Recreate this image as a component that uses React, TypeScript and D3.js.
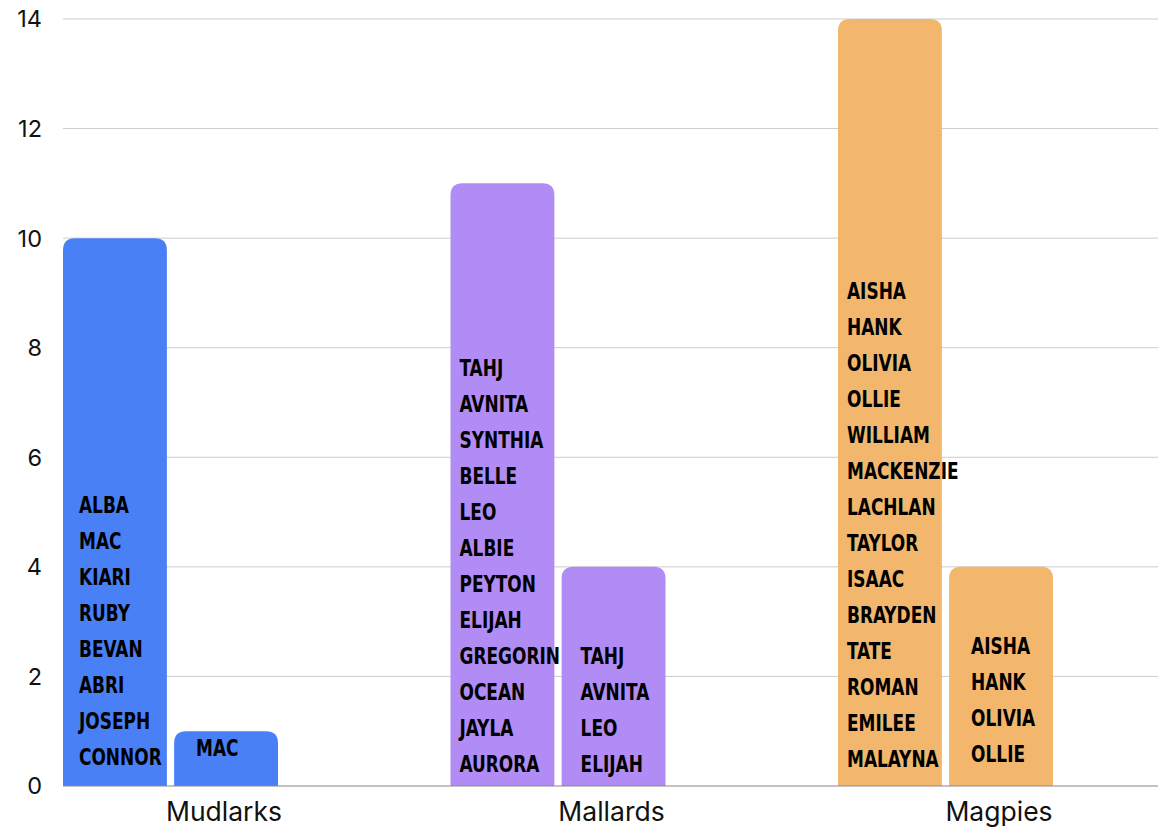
import React from 'react';
import * as d3 from 'd3';

const groups = ['Mudlarks', 'Mallards', 'Magpies'];
const firstValues = [10, 11, 14];
const secondValues = [1, 4, 4];
const yTicks = [0, 2, 4, 6, 8, 10, 12, 14];

const mudlarksFirst = ['ALBA', 'MAC', 'KIARI', 'RUBY', 'BEVAN', 'ABRI', 'JOSEPH', 'CONNOR'];
const mudlarksSecond = ['MAC'];
const mallardsFirst = ['TAHJ', 'AVNITA', 'SYNTHIA', 'BELLE', 'LEO', 'ALBIE', 'PEYTON', 'ELIJAH', 'GREGORIN', 'OCEAN', 'JAYLA', 'AURORA'];
const mallardsSecond = ['TAHJ', 'AVNITA', 'LEO', 'ELIJAH'];
const magpiesFirst = ['AISHA', 'HANK', 'OLIVIA', 'OLLIE', 'WILLIAM', 'MACKENZIE', 'LACHLAN', 'TAYLOR', 'ISAAC', 'BRAYDEN', 'TATE', 'ROMAN', 'EMILEE', 'MALAYNA'];
const magpiesSecond = ['AISHA', 'HANK', 'OLIVIA', 'OLLIE'];

const groupColors = ['#4a80f5', '#b08cf4', '#f2b76c'];

// layout tweaks for the name stacks (one per bar, in draw order)
const nameDx = [16, 22, 9, 19, 9, 22];
const nameBottom = [29, 38, 22, 22, 27, 32];

const width = 1158;
const height = 830;
const left = 63;
const right = 1158;
const top = 19;
const bottom = 786;

const App = () => {
  const y = d3.scaleLinear().domain([0, 14]).range([bottom, top]);
  const x0 = d3.scaleBand().domain(groups).range([left, left + 387.5 * 3]);
  const x1 = d3.scaleBand().domain(['first', 'second']).range([0, 215]).paddingInner(0.065);

  const names = [
    [mudlarksFirst, mudlarksSecond],
    [mallardsFirst, mallardsSecond],
    [magpiesFirst, magpiesSecond],
  ];

  const bars = groups.flatMap((g, i) => [
    { group: g, key: 'first', value: firstValues[i], names: names[i][0], color: groupColors[i] },
    { group: g, key: 'second', value: secondValues[i], names: names[i][1], color: groupColors[i] },
  ]);
  const bw = x1.bandwidth();
  const barX = (b: { group: string; key: string }) => (x0(b.group) ?? 0) + (x1(b.key) ?? 0);

  const r = 12;
  const barPath = (bx: number, by: number) => {
    const p = d3.path();
    p.moveTo(bx, bottom);
    p.lineTo(bx, by + r);
    p.quadraticCurveTo(bx, by, bx + r, by);
    p.lineTo(bx + bw - r, by);
    p.quadraticCurveTo(bx + bw, by, bx + bw, by + r);
    p.lineTo(bx + bw, bottom);
    p.closePath();
    return p.toString();
  };

  return (
    <svg width={width} height={height} style={{ position: 'absolute', left: 0, top: 0, background: '#fff' }}>
      <g>
        {yTicks.map(t => (
          <g key={t}>
            {t > 0 && <line x1={left} x2={right} y1={y(t)} y2={y(t)} stroke="#cccccc" strokeWidth={1} />}
            <text x={42} y={y(t)} dy="0.36em" textAnchor="end" fontFamily="Inter, 'Noto Sans', sans-serif" fontSize={23.5} fill="#111">
              {t}
            </text>
          </g>
        ))}
      </g>
      <g>
        {bars.map((b, i) => (
          <path key={i} d={barPath(barX(b), y(b.value))} fill={b.color} />
        ))}
      </g>
      <g>
        {bars.map((b, i) =>
          b.names.map((n, j) => (
            <text
              key={i + '-' + j}
              transform={`translate(${barX(b) + nameDx[i]},${bottom - nameBottom[i] - (b.names.length - 1 - j) * 36}) scale(0.82,1)`}
              dy="0.36em"
              fontFamily="'DejaVu Sans Condensed', 'DejaVu Sans', sans-serif"
              fontStretch="condensed"
              fontWeight="bold"
              fontSize={23}
              fill="#000"
            >
              {n}
            </text>
          ))
        )}
      </g>
      <line x1={left} x2={right} y1={bottom} y2={bottom} stroke="#888888" strokeWidth={1.2} />
      {groups.map(g => (
        <text key={g} x={(x0(g) ?? 0) + 161} y={811} dy="0.36em" textAnchor="middle" fontFamily="Inter, 'Noto Sans', sans-serif" fontSize={26.5} fill="#111">
          {g}
        </text>
      ))}
    </svg>
  );
};

export default App;
